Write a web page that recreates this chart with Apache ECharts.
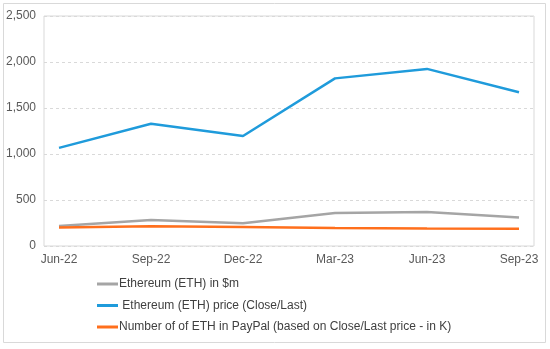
<!DOCTYPE html>
<html><head><meta charset="utf-8">
<script src="https://cdn.jsdelivr.net/npm/echarts@6/dist/echarts.min.js"></script>
<style>html,body{margin:0;padding:0;background:#fff}#c{width:550px;height:349px}</style>
</head><body><div id="c"></div>
<script>
const categories = ['Jun-22','Sep-22','Dec-22','Mar-23','Jun-23','Sep-23'];
const ethHoldingsM = [218, 283, 248, 358, 370, 310];
const ethPrice = [1067, 1328, 1196, 1822, 1925, 1671];
const ethCountK = [202, 214, 207, 197, 191, 188];
const yTicks = [0, 500, 1000, 1500, 2000, 2500];

const names = ['Ethereum (ETH) in $m', ' Ethereum (ETH) price (Close/Last)', 'Number of of ETH in PayPal (based on Close/Last price - in K)'];
const colors = ['#A5A5A5', '#1F9BDB', '#FF6F1C'];
const seriesData = [ethHoldingsM, ethPrice, ethCountK];

const chart = echarts.init(document.getElementById('c'), null, {renderer:'canvas'});
const pad = 15/92;
chart.setOption({
  animation:false,
  textStyle:{fontFamily:'Liberation Sans, Arial, sans-serif'},
  graphic:[{type:'rect', shape:{x:3.5,y:3.5,width:542,height:339}, style:{fill:null, stroke:'#d9d9d9', lineWidth:1}, z:-10}],
  grid:{left:44, right:16, top:16, bottom:103, show:true, borderColor:'#d9d9d9', borderWidth:1},
  xAxis:{type:'value', min:-pad, max:categories.length-1+pad,
    axisLine:{show:false}, axisTick:{show:false}, splitLine:{show:false},
    axisLabel:{customValues:categories.map((c,i)=>i), formatter:v=>categories[Math.round(v)], color:'#595959', fontSize:12, margin:8}},
  yAxis:{type:'value', min:0, max:2500, interval:500,
    axisLine:{show:false}, axisTick:{show:false},
    splitLine:{show:true, lineStyle:{color:'#d9d9d9', type:[3,3], width:1}},
    axisLabel:{formatter:v=>v.toLocaleString('en-US'), color:'#595959', fontSize:12, margin:8}},
  legend:{orient:'vertical', left:97, top:277, padding:0, itemWidth:21, itemHeight:3, itemGap:7.5,
    textStyle:{color:'#404040', fontSize:12, lineHeight:14, padding:[0,0,0,-4]}, icon:'rect',
    data:names.map((n,i)=>({name:n, itemStyle:{color:colors[i]}}))},
  series:seriesData.map((d,i)=>({
    name:names[i], type:'line', symbol:'none', color:colors[i],
    lineStyle:{width:2.5, color:colors[i]},
    data:d.map((v,j)=>[j,v]), z: i===2?5:3
  }))
});
</script></body></html>
